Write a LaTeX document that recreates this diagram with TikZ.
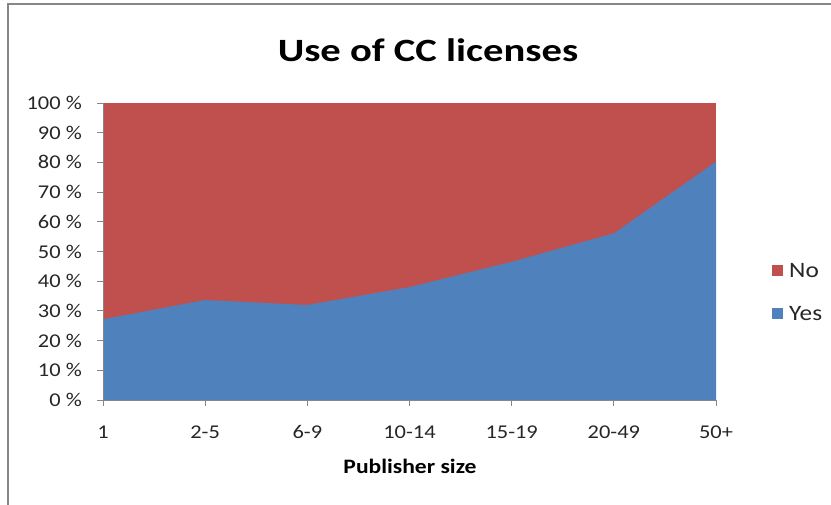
\documentclass[tikz,border=0pt]{standalone}
\usepackage{fontspec}
\setmainfont{Carlito}
\usepackage{tikz}
\usepackage{xcolor}

\definecolor{noRed}{HTML}{C0504D}
\definecolor{yesBlue}{HTML}{4F81BD}
\definecolor{axisGray}{HTML}{868686}

% the chart text is set a little wider than the font
\newcommand{\widetext}[2][1.15]{\scalebox{#1}[1]{#2}}

\begin{document}
\begin{tikzpicture}[
  x=1pt, y=-1pt,
  ticklabel/.style={font=\fontsize{19.5}{20}\selectfont, text=black!85, inner sep=0pt},
  legendlabel/.style={font=\fontsize{22}{22}\selectfont, text=black!85, inner sep=0pt},
  legendbox/.style={minimum size=11pt, inner sep=0pt},
  axisline/.style={draw=axisGray, line width=0.8pt}
  ]
  \useasboundingbox (0,0) rectangle (831,505);

  % frame of the chart
  \draw[axisGray, line width=1.5pt] (8,505) -- (8,4) -- (831,4);

  % title
  \node[font=\bfseries\fontsize{32.5}{33}\selectfont] (title) at (428,50) {\widetext[1.25]{Use of CC licenses}};

  % areas
  \fill[noRed] (103,103) rectangle (716,400);
  \fill[yesBlue] (103,400) -- (103,319.3) -- (205,300) -- (307,305)
    -- (410,287) -- (512,261.7) -- (614,233.3) -- (716,161.7) -- (716,400) -- cycle;

  % y axis
  \draw[axisline] (103,103) -- (103,400);
  \foreach \p [count=\i from 0] in {0,10,...,100} {
    \draw[axisline] (97,400-29.7*\i) -- (103,400-29.7*\i);
    \node[ticklabel, anchor=east] (ylab\i) at (82,400-29.7*\i) {\widetext{\p{} \%}};
  }

  % x axis
  \draw[axisline] (103,400) -- (716,400);
  \foreach \c [count=\i from 0] in {1,2-5,6-9,10-14,15-19,20-49,50+} {
    \draw[axisline] (103+102.17*\i,400) -- (103+102.17*\i,406);
    \node[ticklabel] (xlab\i) at (103+102.17*\i,432) {\widetext{\c}};
  }
  \node[font=\bfseries\fontsize{20.5}{21}\selectfont] (xtitle) at (410,466) {\widetext{Publisher size}};

  % legend
  \node[legendbox, fill=noRed] (noKey) at (777,271) {};
  \node[legendlabel, anchor=west] (noText) at (789,271) {\widetext{No}};
  \node[legendbox, fill=yesBlue] (yesKey) at (777,314) {};
  \node[legendlabel, anchor=west] (yesText) at (789,314) {\widetext{Yes}};
\end{tikzpicture}
\end{document}
